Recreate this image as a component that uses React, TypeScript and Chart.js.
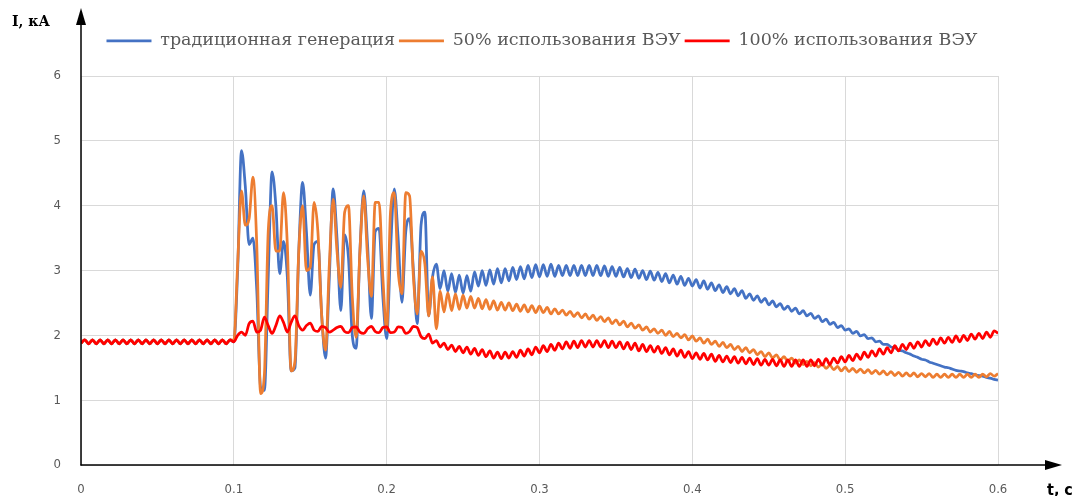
import React, { useEffect, useRef } from 'react';
import { Chart, registerables } from 'chart.js';

Chart.register(...registerables);

// time grid, s (step 0.0025 s, 0 … 0.6)
const STEP = 0.0025;
const COUNT = 241;
const times: number[] = Array.from({ length: COUNT }, (_, i) => Math.round(i * STEP * 10000) / 10000);

const xTicks = ['0', '0.1', '0.2', '0.3', '0.4', '0.5', '0.6'];
const yTicks = ['0', '1', '2', '3', '4', '5', '6'];

const seriesNames = ['традиционная генерация', '50% использования ВЭУ', '100% использования ВЭУ'];
const seriesColors = ['#4472C4', '#ED7D31', '#FF0000'];

// 0 … 0.0975 s: identical pre-fault current for all three cases, kA
const preFault = [
  1.88, 1.93, 1.87, 1.93, 1.87, 1.93, 1.87, 1.93, 1.87, 1.93,
  1.87, 1.93, 1.87, 1.93, 1.87, 1.93, 1.87, 1.93, 1.87, 1.93,
  1.87, 1.93, 1.87, 1.93, 1.87, 1.93, 1.87, 1.93, 1.87, 1.93,
  1.87, 1.93, 1.87, 1.93, 1.87, 1.93, 1.87, 1.93, 1.87, 1.93,
];

// 0.1 … 0.6 s, kA
const traditionalAfter = [
  1.9, 3.0, 4.85, 4.3, 3.4, 3.5, 2.7, 1.2, 1.15, 2.9,
  4.52, 4.0, 2.95, 3.45, 2.9, 1.45, 1.5, 3.3, 4.36, 3.6,
  2.62, 3.4, 3.45, 2.3, 1.65, 2.9, 4.26, 3.5, 2.38, 3.55,
  3.2, 2.0, 1.8, 3.3, 4.23, 3.4, 2.26, 3.6, 3.65, 2.6,
  1.95, 3.3, 4.26, 3.5, 2.51, 3.6, 3.8, 3.0, 2.18, 3.7,
  3.9, 2.3, 2.9, 3.1, 2.72, 3.0, 2.68, 2.95, 2.66, 2.93,
  2.65, 2.92, 2.68, 2.98, 2.76, 3.0, 2.77, 3.01, 2.79, 3.03,
  2.81, 3.03, 2.84, 3.05, 2.86, 3.06, 2.87, 3.08, 2.89, 3.09,
  2.9, 3.09, 2.91, 3.1, 2.91, 3.08, 2.92, 3.08, 2.92, 3.08,
  2.92, 3.08, 2.92, 3.08, 2.92, 3.08, 2.92, 3.07, 2.91, 3.06,
  2.91, 3.05, 2.9, 3.03, 2.89, 3.02, 2.88, 3.0, 2.86, 2.99,
  2.85, 2.97, 2.83, 2.95, 2.81, 2.93, 2.79, 2.91, 2.77, 2.88,
  2.76, 2.86, 2.73, 2.84, 2.71, 2.81, 2.69, 2.78, 2.66, 2.75,
  2.64, 2.72, 2.61, 2.69, 2.57, 2.64, 2.54, 2.61, 2.51, 2.57,
  2.47, 2.53, 2.44, 2.49, 2.4, 2.45, 2.37, 2.42, 2.33, 2.38,
  2.3, 2.34, 2.26, 2.3, 2.21, 2.25, 2.17, 2.2, 2.12, 2.15,
  2.08, 2.1, 2.03, 2.06, 1.99, 2.01, 1.95, 1.96, 1.9, 1.91,
  1.86, 1.86, 1.82, 1.81, 1.77, 1.76, 1.73, 1.71, 1.68, 1.66,
  1.63, 1.62, 1.59, 1.57, 1.55, 1.53, 1.51, 1.5, 1.48, 1.46,
  1.45, 1.44, 1.42, 1.41, 1.39, 1.38, 1.37, 1.35, 1.34, 1.32, 1.31,
];

const wind50After = [
  1.92, 3.1, 4.23, 3.7, 3.8, 4.44, 3.4, 1.1, 1.4, 3.6,
  4.0, 3.3, 3.3, 4.2, 3.4, 1.45, 1.6, 3.3, 4.0, 3.0,
  3.05, 4.05, 3.6, 2.3, 1.77, 3.1, 4.1, 3.3, 2.74, 3.9,
  4.0, 2.6, 1.97, 3.3, 4.15, 3.2, 2.6, 4.05, 4.05, 2.9,
  2.08, 3.9, 4.2, 3.0, 2.64, 4.2, 4.15, 2.9, 2.33, 3.3,
  3.1, 2.3, 2.9, 2.1, 2.68, 2.36, 2.66, 2.38, 2.64, 2.4,
  2.62, 2.42, 2.6, 2.42, 2.57, 2.41, 2.55, 2.4, 2.53, 2.39,
  2.51, 2.39, 2.5, 2.38, 2.48, 2.37, 2.47, 2.36, 2.46, 2.35,
  2.45, 2.35, 2.43, 2.33, 2.41, 2.33, 2.39, 2.31, 2.37, 2.29,
  2.35, 2.27, 2.33, 2.25, 2.31, 2.23, 2.29, 2.21, 2.27, 2.18,
  2.24, 2.16, 2.22, 2.13, 2.19, 2.11, 2.16, 2.08, 2.13, 2.05,
  2.1, 2.03, 2.08, 2.0, 2.06, 1.98, 2.03, 1.96, 2.01, 1.93,
  1.99, 1.91, 1.96, 1.88, 1.94, 1.86, 1.91, 1.83, 1.89, 1.81,
  1.86, 1.78, 1.83, 1.75, 1.81, 1.73, 1.78, 1.7, 1.75, 1.67,
  1.73, 1.65, 1.7, 1.62, 1.67, 1.6, 1.65, 1.57, 1.62, 1.55,
  1.6, 1.53, 1.58, 1.51, 1.56, 1.49, 1.54, 1.47, 1.52, 1.45,
  1.51, 1.44, 1.49, 1.43, 1.48, 1.42, 1.47, 1.41, 1.46, 1.4,
  1.45, 1.39, 1.44, 1.38, 1.43, 1.37, 1.42, 1.37, 1.42, 1.36,
  1.41, 1.36, 1.41, 1.35, 1.4, 1.35, 1.4, 1.35, 1.4, 1.35,
  1.4, 1.35, 1.4, 1.35, 1.4, 1.35, 1.4, 1.36, 1.41, 1.37, 1.41,
];

const wind100After = [
  1.9, 2.0, 2.05, 2.0, 2.18, 2.22, 2.05, 2.08, 2.28, 2.15,
  2.03, 2.15, 2.3, 2.2, 2.05, 2.2, 2.3, 2.15, 2.08, 2.15,
  2.19, 2.08, 2.06, 2.14, 2.12, 2.05, 2.08, 2.12, 2.14, 2.06,
  2.04, 2.12, 2.13, 2.05, 2.03, 2.1, 2.14, 2.06, 2.04, 2.12,
  2.13, 2.04, 2.05, 2.13, 2.12, 2.03, 2.06, 2.14, 2.12, 1.98,
  1.95, 2.02, 1.88, 1.92, 1.82, 1.88, 1.78, 1.85, 1.75, 1.83,
  1.73, 1.82, 1.71, 1.8, 1.69, 1.78, 1.67, 1.76, 1.65, 1.74,
  1.64, 1.74, 1.65, 1.75, 1.66, 1.77, 1.68, 1.79, 1.7, 1.82,
  1.73, 1.84, 1.75, 1.86, 1.77, 1.88, 1.79, 1.9, 1.8, 1.91,
  1.81, 1.92, 1.82, 1.92, 1.82, 1.92, 1.82, 1.92, 1.81, 1.91,
  1.81, 1.9, 1.79, 1.89, 1.78, 1.88, 1.76, 1.86, 1.75, 1.84,
  1.74, 1.83, 1.72, 1.81, 1.7, 1.79, 1.68, 1.77, 1.66, 1.75,
  1.64, 1.73, 1.63, 1.72, 1.62, 1.71, 1.6, 1.69, 1.59, 1.68,
  1.58, 1.67, 1.57, 1.66, 1.56, 1.65, 1.55, 1.64, 1.54, 1.63,
  1.54, 1.63, 1.53, 1.62, 1.52, 1.62, 1.52, 1.62, 1.52, 1.62,
  1.52, 1.62, 1.53, 1.63, 1.54, 1.64, 1.55, 1.65, 1.57, 1.67,
  1.59, 1.69, 1.61, 1.71, 1.63, 1.74, 1.66, 1.76, 1.68, 1.79,
  1.71, 1.81, 1.73, 1.84, 1.76, 1.86, 1.78, 1.88, 1.8, 1.9,
  1.82, 1.92, 1.84, 1.94, 1.86, 1.96, 1.88, 1.97, 1.89, 1.99,
  1.9, 2.0, 1.92, 2.02, 1.94, 2.03, 1.95, 2.05, 1.97, 2.07, 2.03,
];

const traditional = [...preFault, ...traditionalAfter];
const wind50 = [...preFault, ...wind50After];
const wind100 = [...preFault, ...wind100After];

const TICK_FONT = "'Liberation Sans Narrow', 'DejaVu Sans Condensed', 'Roboto Condensed', 'Liberation Sans', sans-serif";

const decorations = {
  id: 'decorations',
  afterInit(chart: any) {
    const legend = chart.legend;
    if (legend) {
      const fit = legend.fit.bind(legend);
      legend.fit = function () {
        fit();
        this.height += 16.5;
      };
    }
  },
  afterDraw(chart: any) {
    const { ctx } = chart;
    const x0 = chart.scales.x.getPixelForValue(0);
    const y0 = chart.scales.y.getPixelForValue(0);
    ctx.save();
    ctx.strokeStyle = '#000';
    ctx.fillStyle = '#000';
    ctx.lineWidth = 1.5;
    // vertical axis with arrow
    ctx.beginPath();
    ctx.moveTo(x0, y0 + 0.5);
    ctx.lineTo(x0, 12);
    ctx.stroke();
    ctx.beginPath();
    ctx.moveTo(x0, 0);
    ctx.lineTo(x0 - 5, 17);
    ctx.lineTo(x0 + 5, 17);
    ctx.closePath();
    ctx.fill();
    // horizontal axis with arrow
    ctx.beginPath();
    ctx.moveTo(x0 - 0.5, y0);
    ctx.lineTo(1042, y0);
    ctx.stroke();
    ctx.beginPath();
    ctx.moveTo(1054, y0);
    ctx.lineTo(1037, y0 - 5);
    ctx.lineTo(1037, y0 + 5);
    ctx.closePath();
    ctx.fill();
    // axis names
    ctx.textBaseline = 'middle';
    ctx.textAlign = 'left';
    ctx.font = "bold 14px 'DejaVu Serif', serif";
    ctx.fillText('I, кА', 4, 14);
    ctx.font = `bold 16px ${TICK_FONT}`;
    ctx.fillText('t, c', 1039, 483);
    ctx.restore();
  },
};

export default function App() {
  const ref = useRef<HTMLCanvasElement>(null);

  useEffect(() => {
    if (!ref.current) return;
    const mk = (label: string, data: number[], color: string, order: number) => ({
      label,
      data,
      borderColor: color,
      backgroundColor: color,
      borderWidth: 2.75,
      pointRadius: 0,
      pointHoverRadius: 0,
      cubicInterpolationMode: 'monotone' as const,
      fill: false,
      order,
    });
    const chart = new Chart(ref.current, {
      type: 'line',
      data: {
        labels: times,
        datasets: [
          mk(seriesNames[0], traditional, seriesColors[0], 3),
          mk(seriesNames[1], wind50, seriesColors[1], 2),
          mk(seriesNames[2], wind100, seriesColors[2], 1),
        ],
      },
      options: {
        responsive: false,
        animation: false,
        events: [],
        layout: { padding: { top: 20, left: 0, right: 0, bottom: 0 } },
        plugins: {
          tooltip: { enabled: false },
          legend: {
            display: true,
            position: 'top',
            labels: {
              usePointStyle: true,
              pointStyle: 'line',
              pointStyleWidth: 45,
              padding: 4,
              color: '#595959',
              font: { family: "'DejaVu Serif', serif", size: 17.5 },
              sort: (a: any, b: any) => a.datasetIndex - b.datasetIndex,
            },
          },
        },
        scales: {
          x: {
            type: 'linear',
            min: 0,
            max: 0.6,
            afterFit: (s: any) => { s.height = 31; },
            afterBuildTicks: (s: any) => {
              s.ticks = xTicks.map((t) => ({ value: parseFloat(t) }));
            },
            grid: { color: '#d9d9d9', lineWidth: 1, drawTicks: false },
            border: { display: false },
            ticks: {
              padding: 17,
              color: '#595959',
              font: { family: TICK_FONT, size: 13 },
              maxRotation: 0,
              callback: (_v: any, i: number) => xTicks[i],
            },
          },
          y: {
            type: 'linear',
            min: 0,
            max: 6,
            afterFit: (s: any) => { s.width = 73; },
            afterBuildTicks: (s: any) => {
              s.ticks = yTicks.map((t) => ({ value: parseFloat(t) }));
            },
            grid: { color: '#d9d9d9', lineWidth: 1, drawTicks: false },
            border: { display: false },
            ticks: {
              padding: 20,
              color: '#595959',
              font: { family: TICK_FONT, size: 13 },
              callback: (_v: any, i: number) => yTicks[i],
            },
          },
          yRight: {
            type: 'linear',
            position: 'right',
            display: true,
            afterFit: (s: any) => { s.width = 78; },
            grid: { display: false },
            border: { display: false },
            ticks: { display: false },
          },
        },
      },
      plugins: [decorations],
    } as any);
    return () => chart.destroy();
  }, []);

  return (
    <div style={{ width: 1068, height: 488 }}>
      <canvas ref={ref} width={1068} height={488} style={{ display: 'block' }} />
    </div>
  );
}
